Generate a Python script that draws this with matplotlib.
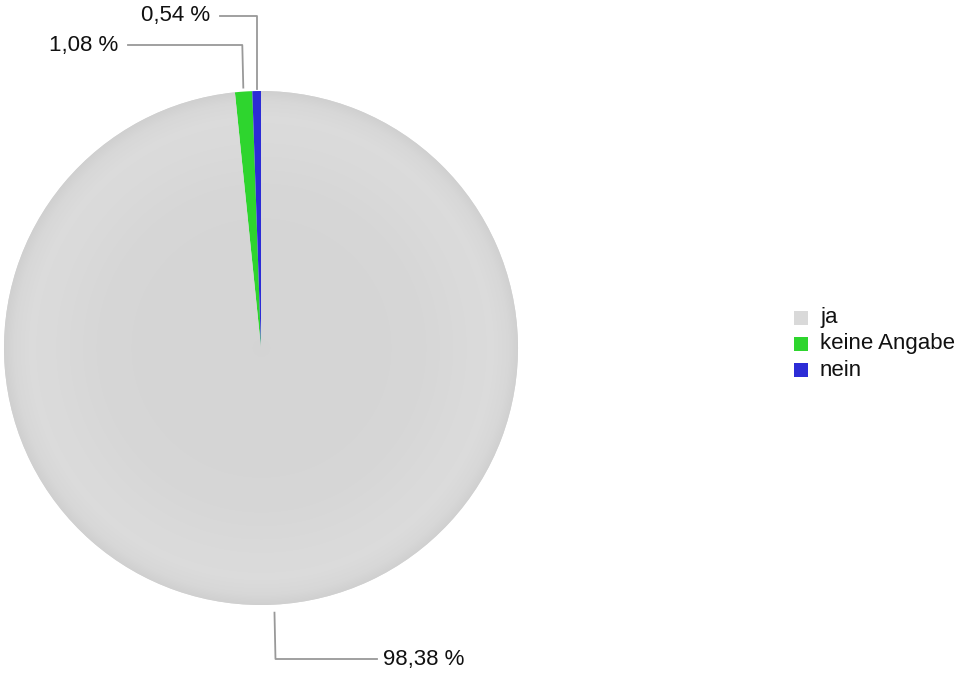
import numpy as np
import matplotlib
matplotlib.use("Agg")
import matplotlib.pyplot as plt

categories = ["ja", "keine Angabe", "nein"]
values = [98.38, 1.08, 0.54]
labels = ["98,38 %", "1,08 %", "0,54 %"]
colors = ["#d9d9d9", "#2ed52e", "#2c2cd6"]

plt.rcParams['font.family'] = ['Liberation Sans', 'DejaVu Sans']

W, H = 955, 675
fig = plt.figure(figsize=(W/100, H/100), dpi=100)
ax = fig.add_axes([0, 0, 1, 1])

cx, cy, r = 261, H - 348, 257
wedges, _ = ax.pie(values, colors=colors, startangle=90, counterclock=False,
                   center=(cx, cy), radius=r, frame=True,
                   wedgeprops=dict(linewidth=0))
ax.set_xlim(0, W)
ax.set_ylim(0, H)
ax.set_aspect('equal')
ax.axis('off')

# subtle radial shading on the main wedge
n = 600
xs = np.linspace(cx - r, cx + r, n)
ys = np.linspace(cy - r, cy + r, n)
X, Y = np.meshgrid(xs, ys)
rr = np.sqrt((X - cx) ** 2 + (Y - cy) ** 2) / r
prof_r = [0.0, 0.6, 0.8, 0.9, 0.96, 1.0]
prof_v = [0.835, 0.84, 0.855, 0.86, 0.845, 0.815]
G = np.interp(rr, prof_r, prof_v)
img = ax.imshow(np.dstack([G, G, G]), extent=(cx - r, cx + r, cy - r, cy + r),
                origin='lower', interpolation='bilinear', zorder=wedges[0].get_zorder() + 0.1)
img.set_clip_path(wedges[0])

line_kw = dict(color="#999999", lw=1.3)
label_layout = {
    0: dict(elbow_y=H - 659, end_x=377, text_x=383, ha='left', r_off=8, dx=1),
    1: dict(elbow_y=H - 45, end_x=128, text_x=118, ha='right', r_off=4, dx=-1),
    2: dict(elbow_y=H - 16, end_x=220, text_x=210, ha='right', r_off=2, dx=0),
}
for i, w in enumerate(wedges):
    mid = np.deg2rad((w.theta1 + w.theta2) / 2)
    lay = label_layout[i]
    ax_ = cx + (r + lay['r_off']) * np.cos(mid)
    ay_ = cy + (r + lay['r_off']) * np.sin(mid)
    ex = ax_ + lay['dx']
    ax.plot([ax_, ex, lay['end_x']], [ay_, lay['elbow_y'], lay['elbow_y']], **line_kw)
    ax.text(lay['text_x'], lay['elbow_y'], labels[i], ha=lay['ha'], va='center',
            fontsize=16, color='#111111')

leg_y = [H - 318, H - 344, H - 370]
for i, cat in enumerate(categories):
    ax.add_patch(plt.Rectangle((794, leg_y[i] - 7), 14, 14, color=colors[i], lw=0))
    ax.text(820, leg_y[i], cat, ha='left', va='center', fontsize=16, color='#111111')

fig.savefig("out.png", dpi=100)
